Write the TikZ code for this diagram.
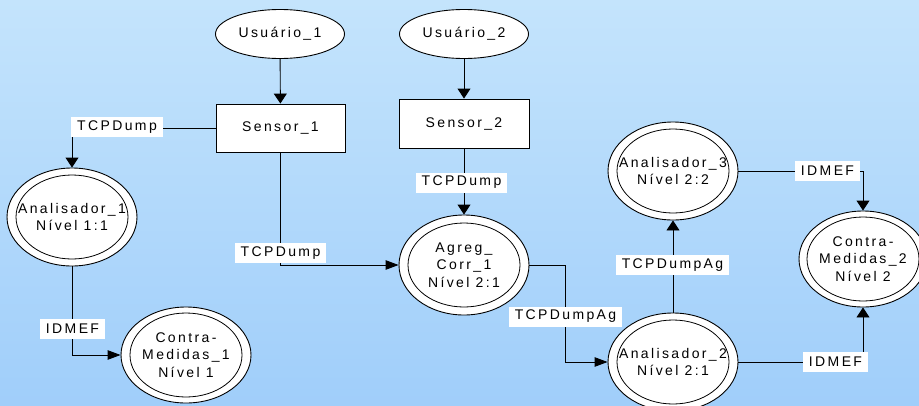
\documentclass[tikz,border=0pt]{standalone}
\usepackage{fontspec}
\setmainfont{Liberation Sans}[LetterSpace=17]
\usetikzlibrary{arrows.meta,shapes.geometric}

\definecolor{bgtop}{RGB}{196,228,252}
\definecolor{bgbottom}{RGB}{160,206,250}

\tikzset{
  every node/.style={font=\fontsize{14}{17.5}\selectfont, text=black},
  actor/.style={ellipse, draw=black, line width=0.9pt, fill=white,
    minimum width=129pt, minimum height=49pt, inner sep=0pt},
  sensorbox/.style={rectangle, draw=black, line width=0.9pt, fill=white,
    minimum width=129pt, minimum height=48pt, inner sep=0pt},
  agent/.style={ellipse, draw=black, line width=0.9pt, fill=white,
    minimum width=130pt, minimum height=98pt, inner sep=0pt,
    label={[align=center, inner sep=0pt]center:#1}},
  flowlabel/.style={rectangle, fill=white, inner xsep=6pt, inner ysep=0pt,
    minimum height=20pt},
  wire/.style={draw=black, line width=0.9pt},
  toV/.style={wire, -{Triangle[length=10pt,width=13pt]}},
  toH/.style={wire, -{Triangle[length=13pt,width=9.5pt]}},
}

\begin{document}
\begin{tikzpicture}[x=1pt, y=-1pt]
  % page background
  \useasboundingbox (0,0) rectangle (919,405);
  \clip (0,0) rectangle (919,405);
  \shade[top color=bgtop, bottom color=bgbottom] (0,0) rectangle (919,405);

  % users and sensors
  \node[actor] (u1) at (280,34) {Usuário\_1};
  \node[actor] (u2) at (464,34) {Usuário\_2};
  \node[sensorbox] (s1) at (280.5,128) {Sensor\_1};
  \node[sensorbox, minimum width=130pt, minimum height=49pt] (s2) at (464,123.5) {Sensor\_2};

  % analysers, aggregator and countermeasures (double ellipses)
  \node[agent={Analisador\_1\\Nível 1:1}] (a1) at (72,217) {};
  \node[agent={Contra-\\Medidas\_1\\Nível 1}, minimum height=96pt] (cm1) at (186,355) {};
  \node[agent={Agreg\_\\Corr\_1\\Nível 2:1}, minimum height=100pt] (ag) at (464,265) {};
  \node[agent={Analisador\_3\\Nível 2:2}] (a3) at (673,171) {};
  \node[agent={Analisador\_2\\Nível 2:1}] (a2) at (673,362) {};
  \node[agent={Contra-\\Medidas\_2\\Nível 2}, minimum width=128pt, minimum height=96pt] (cm2) at (863,259) {};

  % inner ring of the double ellipses
  \foreach \n in {a1,cm1,ag,a3,a2,cm2}
    \draw[line width=0.8pt] (\n.center) ellipse [x radius=56, y radius=42];

  % connectors
  \coordinate (bend) at (565,265);
  \draw[toV] (u1) -- (s1);
  \draw[toV] (u2) -- (s2);
  \draw[toV] (s1.west) -| (a1.north);
  \draw[toH] (s1.south) |- (ag.west);
  \draw[toV] (s2.south) -- (ag.north);
  \draw[toH] (a1.south) |- (cm1.west);
  \draw[toH] (ag.east) -- (bend) |- (a2.west);
  \draw[toV] (a2.north) -- (a3.south);
  \draw[toV] (a3.east) -| (cm2.north);
  \draw[toV] (a2.east) -| (cm2.south);

  % flow labels
  \node[flowlabel] (l1) at (117,127) {TCPDump};
  \node[flowlabel] (l2) at (280.5,253) {TCPDump};
  \node[flowlabel] (l3) at (461.5,182.5) {TCPDump};
  \node[flowlabel] (l4) at (72.5,328.5) {IDMEF};
  \node[flowlabel] (l5) at (565.5,316.5) {TCPDumpAg};
  \node[flowlabel] (l6) at (672.5,265) {TCPDumpAg};
  \node[flowlabel] (l7) at (827.5,170.5) {IDMEF};
  \node[flowlabel] (l8) at (835.5,362) {IDMEF};
\end{tikzpicture}
\end{document}
